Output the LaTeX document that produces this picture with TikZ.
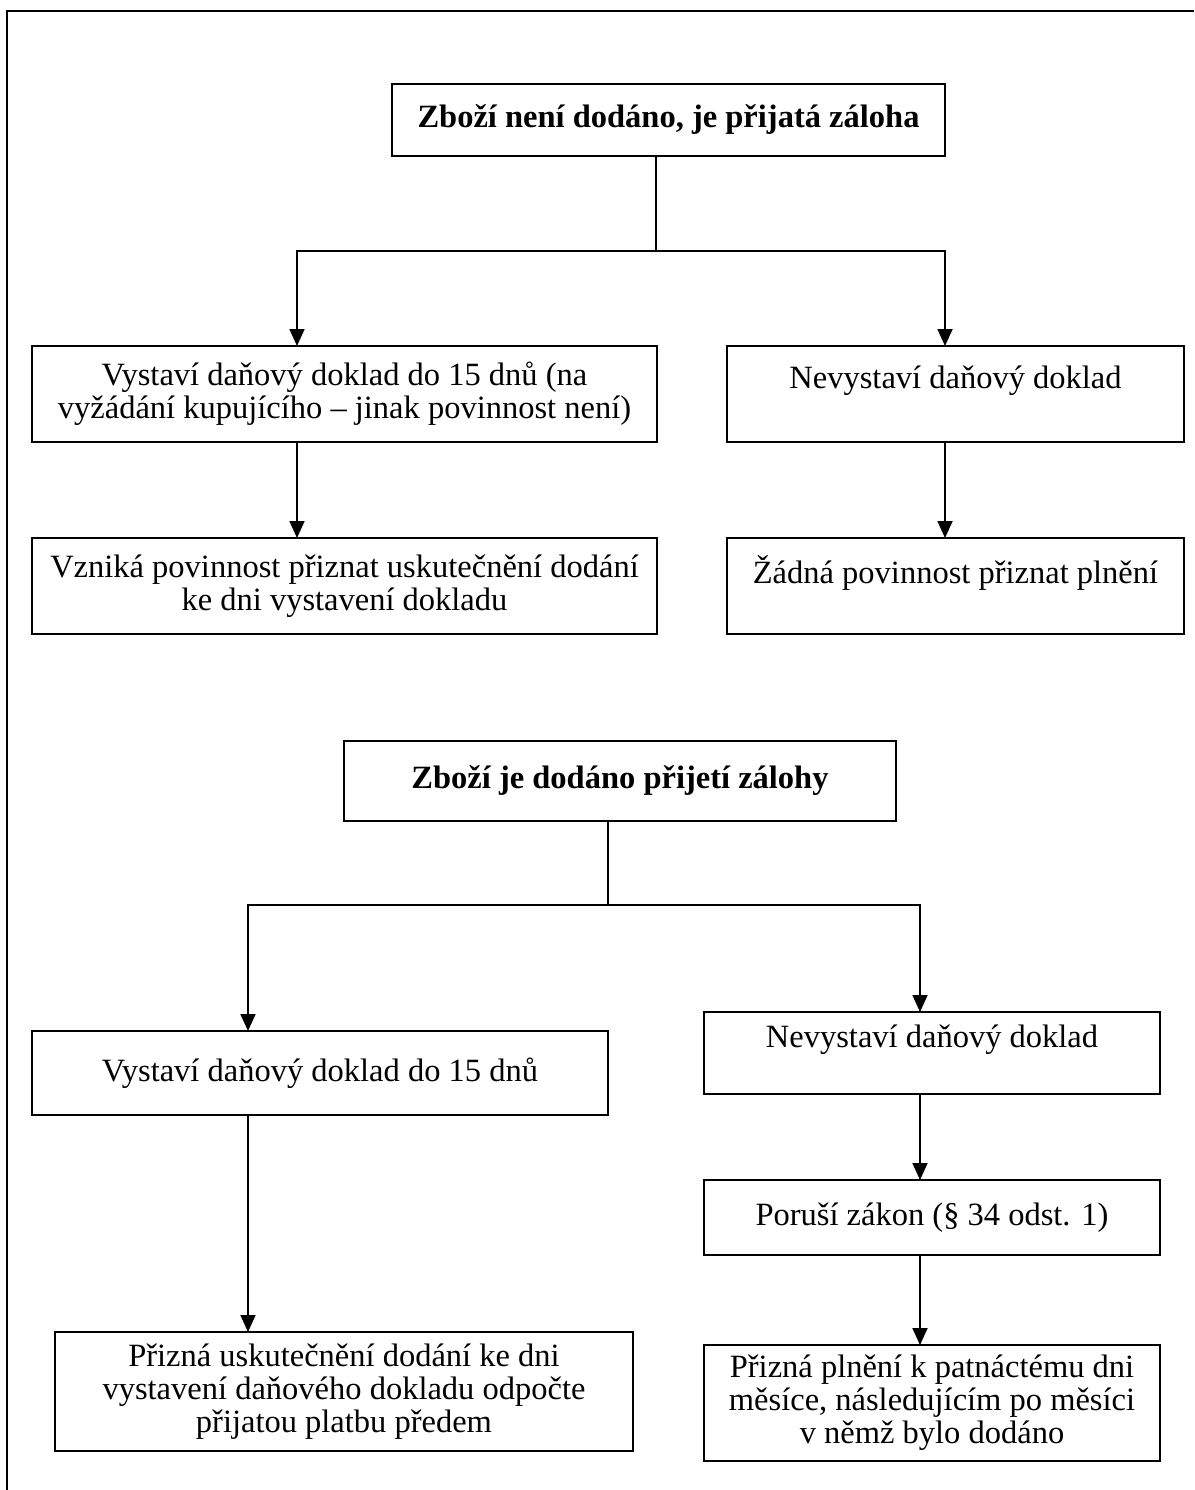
\documentclass[tikz,border=0pt]{standalone}
\usepackage{fontspec}
\setmainfont{Liberation Serif}
\usetikzlibrary{arrows.meta}
\begin{document}
\begin{tikzpicture}[x=1pt,y=-1pt,
  box/.style={draw, line width=1.8pt, rectangle, inner sep=0pt, outer sep=0pt,
    align=center, anchor=north west, font=\fontsize{32.5}{33}\selectfont},
  conn/.style={line width=1.8pt},
  arr/.style={conn, -{Triangle[width=15pt,length=17pt]}},
  frameline/.style={line width=2.5pt}]
\useasboundingbox (0,0) rectangle (1194,1490);
\draw[frameline] (7,1490) -- (7,11) -- (1194,11);

% upper part
\node[box, minimum width=553pt, minimum height=72pt] (top) at (392,84)
  {\textbf{Zboží není dodáno, je přijatá záloha}};
\node[box, minimum width=625pt, minimum height=96pt] (b1) at (32,346)
  {Vystaví daňový doklad do 15 dnů (na\\vyžádání kupujícího – jinak povinnost není)};
\node[box, minimum width=457pt, minimum height=96pt] (b3) at (727,346)
  {Nevystaví daňový doklad\\~};
\node[box, minimum width=625pt, minimum height=96pt] (b2) at (32,538)
  {Vzniká povinnost přiznat uskutečnění dodání\\ke dni vystavení dokladu};
\node[box, minimum width=457pt, minimum height=96pt] (b4) at (727,538)
  {Žádná povinnost přiznat plnění\\~};

\coordinate (j1) at (656,251);
\coordinate (l1) at (297,251);
\coordinate (r1) at (945,251);
\draw[conn] (top.south -| j1) -- (j1);
\draw[arr] (j1) -- (l1) -- (l1 |- b1.north);
\draw[arr] (j1) -- (r1) -- (r1 |- b3.north);
\draw[arr] (l1 |- b1.south) -- (l1 |- b2.north);
\draw[arr] (r1 |- b3.south) -- (r1 |- b4.north);

% lower part
\node[box, minimum width=552pt, minimum height=80pt] (top2) at (344,741)
  {\textbf{Zboží je dodáno přijetí zálohy}};
\node[box, minimum width=576pt, minimum height=84pt] (c1) at (32,1031)
  {Vystaví daňový doklad do 15 dnů};
\node[box, minimum width=456pt, minimum height=82pt] (d1) at (704,1012)
  {Nevystaví daňový doklad\\~};
\node[box, minimum width=456pt, minimum height=75pt] (d2) at (704,1180)
  {Poruší zákon (§ 34 odst. 1)};
\node[box, minimum width=456pt, minimum height=116pt] (d3) at (704,1345)
  {Přizná plnění k patnáctému dni\\měsíce, následujícím po měsíci\\v němž bylo dodáno};
\node[box, minimum width=578pt, minimum height=119pt] (c2) at (55,1332)
  {Přizná uskutečnění dodání ke dni\\vystavení daňového dokladu odpočte\\přijatou platbu předem};

\coordinate (j2) at (608,905);
\coordinate (l2) at (248,905);
\coordinate (r2) at (920,905);
\draw[conn] (top2.south -| j2) -- (j2);
\draw[arr] (j2) -- (l2) -- (l2 |- c1.north);
\draw[arr] (j2) -- (r2) -- (r2 |- d1.north);
\draw[arr] (l2 |- c1.south) -- (l2 |- c2.north);
\draw[arr] (r2 |- d1.south) -- (r2 |- d2.north);
\draw[arr] (r2 |- d2.south) -- (r2 |- d3.north);
\end{tikzpicture}
\end{document}
